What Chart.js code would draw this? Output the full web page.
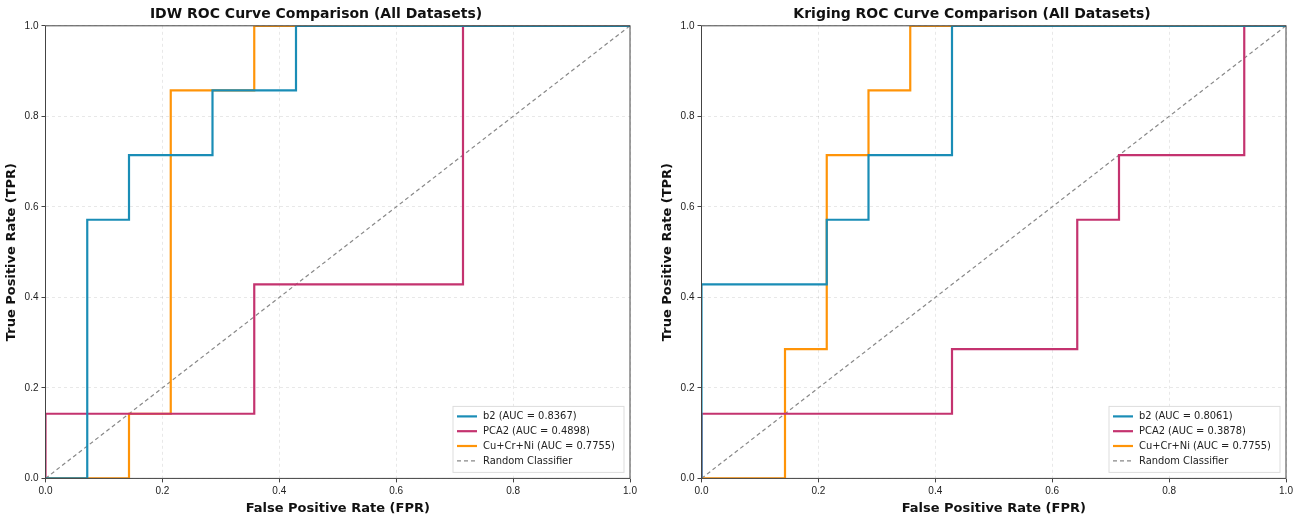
<!DOCTYPE html>
<html>
<head>
<meta charset="utf-8">
<script src="https://cdn.jsdelivr.net/npm/chart.js@4.4.1/dist/chart.umd.min.js"></script>
<style>
  body { margin: 0; background: #fff; }
  .fila { display: flex; width: 1302px; height: 516px; }
  canvas { display: block; }
</style>
</head>
<body>
<div class="fila">
  <canvas id="idw" width="650" height="516"></canvas>
  <canvas id="kriging" width="652" height="516"></canvas>
</div>
<script>
// Colores de cada dataset
const colores = { b2: "#1a8db6", PCA2: "#c4336f", cu: "#ff9408" };

// Curvas ROC (FPR, TPR)
const curvas = {
    idw: {
        titulo: "IDW ROC Curve Comparison (All Datasets)",
        b2: [[0,0],[1/14,0],[1/14,4/7],[2/14,4/7],[2/14,5/7],[4/14,5/7],[4/14,6/7],[6/14,6/7],[6/14,1],[1,1]],
        PCA2: [[0,0],[0,1/7],[5/14,1/7],[5/14,3/7],[10/14,3/7],[10/14,1],[1,1]],
        cu: [[0,0],[2/14,0],[2/14,1/7],[3/14,1/7],[3/14,6/7],[5/14,6/7],[5/14,1],[1,1]],
        auc: ["0.8367", "0.4898", "0.7755"],
        pad: { left: 2, right: 20, top: 0, bottom: 0 }
    },
    kriging: {
        titulo: "Kriging ROC Curve Comparison (All Datasets)",
        b2: [[0,0],[0,3/7],[3/14,3/7],[3/14,4/7],[4/14,4/7],[4/14,5/7],[6/14,5/7],[6/14,1],[1,1]],
        PCA2: [[0,0],[0,1/7],[6/14,1/7],[6/14,2/7],[9/14,2/7],[9/14,4/7],[10/14,4/7],[10/14,5/7],[13/14,5/7],[13/14,1],[1,1]],
        cu: [[0,0],[2/14,0],[2/14,2/7],[3/14,2/7],[3/14,5/7],[4/14,5/7],[4/14,6/7],[5/14,6/7],[5/14,1],[1,1]],
        auc: ["0.8061", "0.3878", "0.7755"],
        pad: { left: 8, right: 16, top: 0, bottom: 0 }
    }
};

const aPuntos = arr => arr.map(p => ({ x: p[0], y: p[1] }));

// Plugin: marco del area y leyenda dentro abajo a la derecha
const marcoYLeyenda = {
    id: "marcoYLeyenda",
    afterDraw(chart) {
        const c = chart.ctx, a = chart.chartArea;
        c.save();
        c.strokeStyle = "#444";
        c.lineWidth = 1;
        c.strokeRect(a.left, a.top, a.right - a.left, a.bottom - a.top);

        const items = chart.data.datasets.map(d => d);
        const w = 171, h = 66;
        const x = a.right - w - 6, y = a.bottom - h - 6;
        c.fillStyle = "rgba(255,255,255,0.85)";
        c.strokeStyle = "#ddd";
        c.fillRect(x, y, w, h);
        c.strokeRect(x, y, w, h);
        c.font = "11px 'DejaVu Sans Condensed', 'Liberation Sans Narrow', sans-serif";
        c.textBaseline = "middle";
        items.forEach((d, i) => {
            const yy = y + 10 + i * 14.8;
            c.strokeStyle = d.borderColor;
            c.lineWidth = d.borderWidth;
            c.setLineDash(d.borderDash || []);
            c.beginPath(); c.moveTo(x + 4, yy); c.lineTo(x + 24, yy); c.stroke();
            c.setLineDash([]);
            c.fillStyle = "#222";
            c.fillText(d.label, x + 30, yy);
        });
        c.restore();
    }
};

function crearGrafica(id, info) {
    const ctx = document.getElementById(id).getContext("2d");
    const serie = (label, datos, color) => ({
        label: label, data: aPuntos(datos), borderColor: color,
        borderWidth: 2.2, pointRadius: 0, fill: false, tension: 0
    });
    const rejilla = { color: "rgba(0,0,0,0.09)", tickColor: "#444", tickLength: 4, borderDash: [3, 3] };
    return new Chart(ctx, {
        type: "line",
        data: {
            datasets: [
                serie("b2 (AUC = " + info.auc[0] + ")", info.b2, colores.b2),
                serie("PCA2 (AUC = " + info.auc[1] + ")", info.PCA2, colores.PCA2),
                serie("Cu+Cr+Ni (AUC = " + info.auc[2] + ")", info.cu, colores.cu),
                {
                    label: "Random Classifier", data: aPuntos([[0,0],[1,1]]),
                    borderColor: "#888", borderWidth: 1.2, borderDash: [4, 3],
                    pointRadius: 0, fill: false
                }
            ]
        },
        options: {
            responsive: false,
            animation: false,
            layout: { padding: info.pad },
            plugins: {
                legend: { display: false },
                tooltip: { enabled: false },
                title: {
                    display: true, text: info.titulo, color: "#111",
                    font: { size: 14, weight: "bold", family: "'DejaVu Sans', sans-serif" },
                    padding: { top: 6, bottom: 3 }
                }
            },
            scales: {
                x: {
                    type: "linear", min: 0, max: 1,
                    ticks: { stepSize: 0.2, color: "#222", font: { size: 10 }, callback: v => v.toFixed(1) },
                    grid: rejilla,
                    border: { dash: [3, 3] },
                    title: { display: true, text: "False Positive Rate (FPR)", color: "#111",
                        font: { size: 13, weight: "bold", family: "'DejaVu Sans', sans-serif" }, padding: 0 }
                },
                y: {
                    type: "linear", min: 0, max: 1,
                    ticks: { stepSize: 0.2, color: "#222", font: { size: 10 }, callback: v => v.toFixed(1) },
                    grid: rejilla,
                    border: { dash: [3, 3] },
                    title: { display: true, text: "True Positive Rate (TPR)", color: "#111",
                        font: { size: 13, weight: "bold", family: "'DejaVu Sans', sans-serif" }, padding: 2 }
                }
            }
        },
        plugins: [marcoYLeyenda]
    });
}

crearGrafica("idw", curvas.idw);
crearGrafica("kriging", curvas.kriging);
</script>
</body>
</html>
